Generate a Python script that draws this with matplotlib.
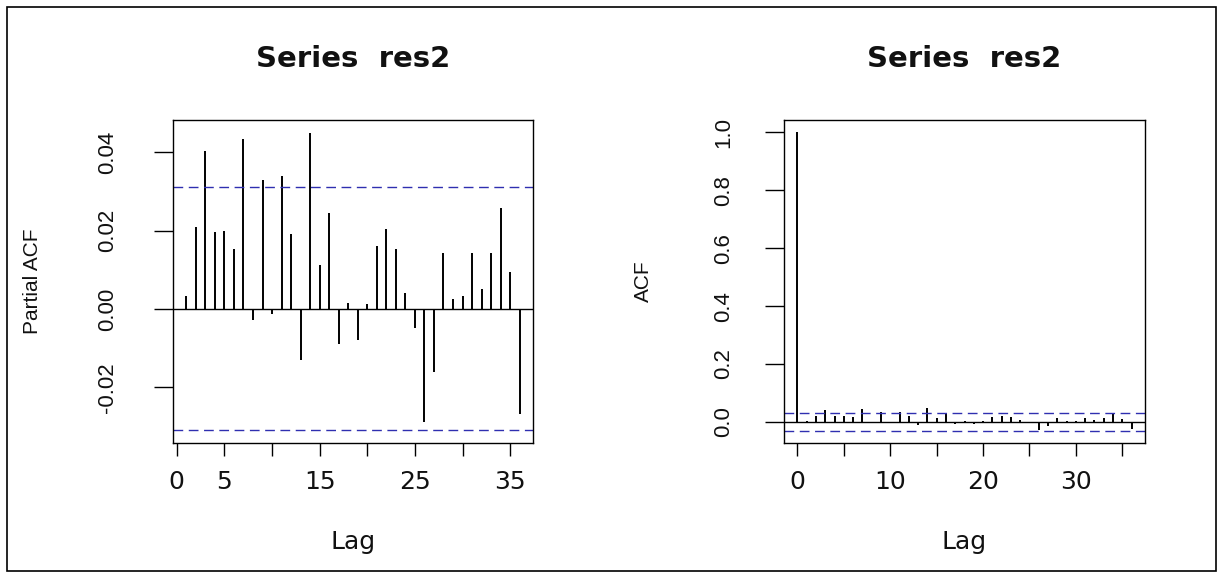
"""Recreate the R acf/pacf pair for res2."""

import numpy as np
import matplotlib
matplotlib.use('Agg')
import matplotlib.pyplot as plt
from matplotlib.patches import Rectangle

# values
PACF_LAGS = list(range(1, 37))
PACF_VALUES = [0.0034, 0.0208, 0.0404, 0.0197, 0.0200, 0.0153, 0.0433, -0.0027,
               0.0330, -0.0013, 0.0338, 0.0190, -0.0129, 0.0450, 0.0113, 0.0244,
               -0.0089, 0.0016, -0.0078, 0.0012, 0.0161, 0.0205, 0.0153, 0.0041,
               -0.0049, -0.0288, -0.0161, 0.0142, 0.0026, 0.0033, 0.0142, 0.0051,
               0.0142, 0.0258, 0.0095, -0.0269]
ACF_LAGS = list(range(0, 37))
ACF_VALUES = [1.0, 0.0035, 0.0210, 0.0410, 0.0205, 0.0210, 0.0160, 0.0440,
              -0.0010, 0.0340, 0.0010, 0.0350, 0.0210, -0.0110, 0.0470, 0.0120,
              0.0260, -0.0080, 0.0020, -0.0070, 0.0020, 0.0170, 0.0220, 0.0160,
              0.0050, -0.0040, -0.0280, -0.0150, 0.0150, 0.0030, 0.0040, 0.0150,
              0.0060, 0.0150, 0.0270, 0.0100, -0.0250]
CONF_LIMIT = 0.031
TITLE = 'Series  res2'

PACF_YTICKS = [-0.02, 0.00, 0.02, 0.04]
PACF_YLABELS = ['-0.02', '0.00', '0.02', '0.04']
PACF_XTICKS = [0, 5, 10, 15, 20, 25, 30, 35]
PACF_XLABELS = ['0', '5', '', '15', '', '25', '', '35']
ACF_YTICKS = [0.0, 0.2, 0.4, 0.6, 0.8, 1.0]
ACF_YLABELS = ['0.0', '0.2', '0.4', '0.6', '0.8', '1.0']
ACF_XTICKS = [0, 5, 10, 15, 20, 25, 30, 35]
ACF_XLABELS = ['0', '', '10', '', '20', '', '30', '']

BLUE = '#2F2FB0'
TEXT = '#111111'
W, H = 1221, 575


def frac(x0, y0, x1, y1):
    # pixel box (top-left origin) -> figure fraction rect
    return [x0 / W, 1 - y1 / H, (x1 - x0) / W, (y1 - y0) / H]


def style_axis(ax, xticks, xlabels, yticks, ylabels, ylabel, xlim, ylim,
               ypad):
    ax.set_xlim(*xlim)
    ax.set_ylim(*ylim)
    for spine in ax.spines.values():
        spine.set_linewidth(1.0)
        spine.set_color('black')
    ax.set_xticks(xticks)
    ax.set_xticklabels(xlabels, fontsize=18, family='DejaVu Sans', color=TEXT)
    ax.set_yticks(yticks)
    ax.set_yticklabels(ylabels, fontsize=16, family='Liberation Sans',
                       color=TEXT, rotation=90, va='center')
    ax.tick_params(axis='x', direction='out', length=9.4, width=1.0, pad=10)
    ax.tick_params(axis='y', direction='out', length=13.7, width=1.0,
                   pad=ypad)
    ax.set_xlabel('Lag', fontsize=18, family='DejaVu Sans', color=TEXT,
                  va='center')
    ax.xaxis.set_label_coords(0.5, (443 - 542) / 323)
    ax.set_ylabel(ylabel, fontsize=15, family='Liberation Sans', color=TEXT,
                  va='center')
    ax.axhline(0, color='black', lw=1.0)
    for c in (CONF_LIMIT, -CONF_LIMIT):
        ax.axhline(c, color=BLUE, lw=1.0, linestyle=(0, (7, 4)))


def main():
    fig = plt.figure(figsize=(W / 100, H / 100), dpi=100, facecolor='white')

    # Panel 1: partial autocorrelation
    ax = fig.add_axes(frac(173, 120, 533, 443))
    ax.vlines(PACF_LAGS, 0, PACF_VALUES, color='black', lw=1.4)
    style_axis(ax, PACF_XTICKS, PACF_XLABELS, PACF_YTICKS, PACF_YLABELS,
               'Partial ACF', (-0.4, 37.4), (-0.0342, 0.0482), ypad=26)
    ax.yaxis.set_label_coords((33 - 173) / 360, 0.5)
    ax.set_title(TITLE, fontsize=21, fontweight='bold', family='DejaVu Sans',
                 color=TEXT, pad=38)

    # Panel 2: autocorrelation
    ax = fig.add_axes(frac(784, 120, 1145, 443))
    ax.vlines(ACF_LAGS, 0, ACF_VALUES, color='black', lw=1.4)
    style_axis(ax, ACF_XTICKS, ACF_XLABELS, ACF_YTICKS, ACF_YLABELS, 'ACF',
               (-1.44, 37.44), (-0.073, 1.043), ypad=22)
    ax.yaxis.set_label_coords((643 - 784) / 361, 0.5)
    ax.set_title(TITLE, fontsize=21, fontweight='bold', family='DejaVu Sans',
                 color=TEXT, pad=38)

    # screenshot frame
    fig.patches.append(Rectangle((7 / W, 1 - 571 / H), 1209 / W, 564 / H,
                                 transform=fig.transFigure, fill=False,
                                 edgecolor='black', lw=1.2))

    fig.savefig('out.png', dpi=100, facecolor='white')
    plt.close(fig)


if __name__ == "__main__":
    main()
